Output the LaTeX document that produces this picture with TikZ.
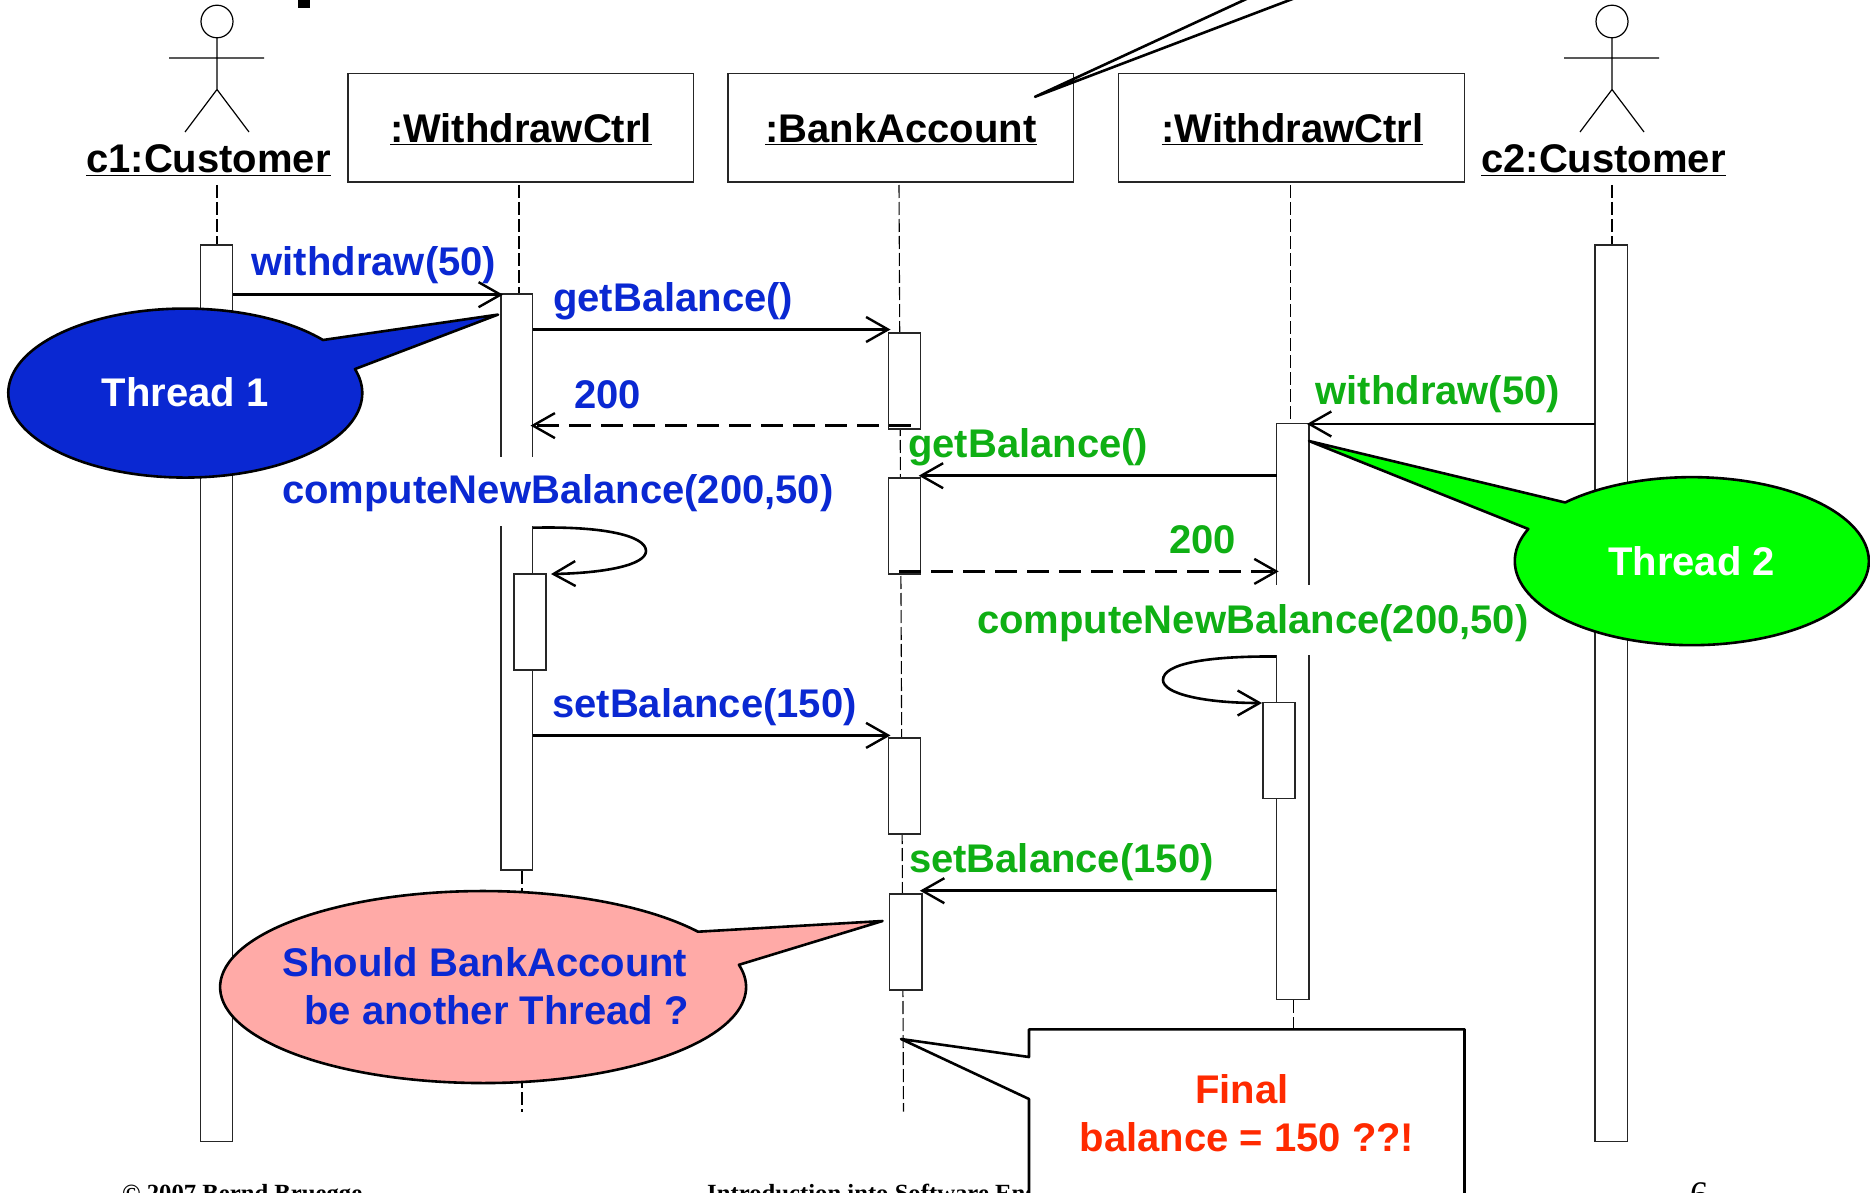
\documentclass[tikz,border=0pt]{standalone}
\usepackage{fontspec}
\setmainfont{Liberation Sans}
\newfontfamily\serifft{Liberation Serif}
\usetikzlibrary{arrows.meta}
\definecolor{tblue}{HTML}{0A28D2}
\definecolor{tgreen}{HTML}{0FAF14}
\definecolor{bgreen}{HTML}{00FF00}
\definecolor{bpink}{HTML}{FFAAA7}
\definecolor{tred}{HTML}{FF2A00}
\newcommand{\bigfont}{\fontsize{40}{48}\selectfont\bfseries}
\tikzset{
  x=1pt,y=1pt,
  thinline/.style={line width=1.2pt,draw=black!85},
  actbar/.style={thinline,fill=white,rectangle,inner sep=0pt,outer sep=0pt},
  objbox/.style={thinline,fill=white,rectangle,inner sep=0pt,outer sep=0pt,minimum height=108.5pt,minimum width=345.7pt},
  lifeline/.style={line width=1.1pt,dash pattern=on 13pt off 4pt},
  msg/.style={line width=2.6pt,shorten >=-2pt,-{Straight Barb[length=22pt,width=25pt,line width=2.4pt]}},
  ret/.style={msg,dash pattern=on 22pt off 10pt},
  limb/.style={line width=1.2pt},
  bubble/.style={line width=2.6pt,draw=black,line join=round},
  lab/.style={anchor=base west,inner sep=0pt,font=\bigfont},
  blab/.style={lab,text=tblue},
  glab/.style={lab,text=tgreen},
  whitelab/.style={fill=white,inner xsep=3pt,inner ysep=0pt,text depth=22pt},
  foot/.style={anchor=base west,inner sep=0pt,text=black},
}
\newcommand{\actor}[2]{%
  \draw[limb] (#1,-21.5) ellipse [x radius=16,y radius=16.3];
  \draw[limb] (#1,-38) -- (#1,-89.5) (#1-48,-58) -- (#1+47,-58)
    (#1-32,-132) -- (#1,-89.5) -- (#1+32,-132);
  \node (#2) at (#1,-110) [inner sep=0pt,minimum size=0pt] {};
}
\begin{document}
\begin{tikzpicture}
\useasboundingbox (0,0) rectangle (1870,-1193);
\clip (0,0) rectangle (1870,-1193);
\fill[white] (0,0) rectangle (1870,-1193);

% title fragment
\fill[black] (298,0) rectangle (310,-8);

% footer
\node[foot,font=\serifft\bfseries\fontsize{24.7}{30}\selectfont] (f1) at (122,-1201.5) {© 2007 Bernd Bruegge};
\node[foot,font=\serifft\bfseries\fontsize{24.7}{30}\selectfont] (f2) at (707,-1201.5) {Introduction into Software Engineering};
\node[foot,font=\serifft\fontsize{36}{40}\selectfont] (f3) at (1690,-1206) {6};

% actors
\actor{217}{actA}
\actor{1612}{actB}
\node[lab] (c1) at (86,-173) {\underline{c1:Customer}};
\node[lab] (c2) at (1481,-173) {\underline{c2:Customer}};

% objects
\node[objbox,anchor=north west] (o1) at (348,-73.5) {};
\node[objbox,anchor=north west] (o2) at (728,-73.5) {};
\node[objbox,anchor=north west] (o3) at (1118.7,-73.5) {};
\node[lab,anchor=base] (o1t) at (521,-142.4) {\underline{:WithdrawCtrl}};
\node[lab,anchor=base] (o2t) at (901,-142.4) {\underline{:BankAccount}};
\node[lab,anchor=base] (o3t) at (1292.5,-142.4) {\underline{:WithdrawCtrl}};

% named free ends of lifelines
\coordinate (l1a) at (217,-185);   \coordinate (l1b) at (217,-245);
\coordinate (l2a) at (519,-185);   \coordinate (l2b) at (519,-294);
\coordinate (l2c) at (522,-871);   \coordinate (l2d) at (522,-1111.6);
\coordinate (l3a) at (899,-185);   \coordinate (l3b) at (903.5,-1111.6);
\coordinate (l4a) at (1290.4,-185);\coordinate (l4b) at (1290.4,-423.6);
\coordinate (l4c) at (1293.4,-1000);\coordinate (l4d) at (1293.4,-1028);
\coordinate (l5a) at (1612,-185);  \coordinate (l5b) at (1612,-245);
\draw[lifeline] (l1a) -- (l1b);
\draw[lifeline] (l2a) -- (l2b);
\draw[lifeline] (l2c) -- (l2d);
\draw[lifeline] (l3a) -- (l3b);
\draw[lifeline] (l4a) -- (l4b);
\draw[lifeline] (l4c) -- (l4d);
\draw[lifeline] (l5a) -- (l5b);

% activation bars
\node[actbar,anchor=north west,minimum width=32.1pt,minimum height=896.5pt] (a1) at (200.4,-245) {};
\node[actbar,anchor=north west,minimum width=32.1pt,minimum height=896.5pt] (a5) at (1595,-245) {};
\node[actbar,anchor=north west,minimum width=31.5pt,minimum height=576pt] (a2) at (501,-294) {};
\node[actbar,anchor=north west,minimum width=32pt,minimum height=96pt] (a2n) at (514,-574) {};
\node[actbar,anchor=north west,minimum width=32.2pt,minimum height=575.5pt] (a4) at (1276.7,-423.6) {};
\node[actbar,anchor=north west,minimum width=32pt,minimum height=96pt] (a4n) at (1263,-702.5) {};
\node[actbar,anchor=north west,minimum width=32.2pt,minimum height=96pt] (b1) at (888.5,-333) {};
\node[actbar,anchor=north west,minimum width=32.2pt,minimum height=96pt] (b2) at (888.5,-478) {};
\node[actbar,anchor=north west,minimum width=32.2pt,minimum height=96pt] (b3) at (888.5,-738) {};
\node[actbar,anchor=north west,minimum width=32.2pt,minimum height=96pt] (b4) at (889.7,-894) {};

% message rows
\coordinate (r1) at (0,-294.7);
\coordinate (r2) at (0,-329.5);
\coordinate (r3) at (0,-425.6);
\coordinate (r4) at (0,-735.4);
\coordinate (g1) at (0,-424);
\coordinate (g2) at (0,-475.7);
\coordinate (g3) at (0,-571.4);
\coordinate (g4) at (0,-890.7);
\coordinate (bmid) at (910.6,-425.6);
\coordinate (bmid2) at (899,-571.4);

% labels (the two long ones blank out what lies behind them)
\node[blab,whitelab,text height=47pt] (tCompB) at (279,-503.5) {computeNewBalance(200,50)};
\node[glab,whitelab,text height=48pt] (tCompG) at (974,-633.4) {computeNewBalance(200,50)};
\node[blab] (tW1) at (251.5,-275) {withdraw(50)};
\node[blab] (tG1) at (553,-311.5) {getBalance()};
\node[blab] (t200B) at (574,-408) {200};
\node[blab] (tS1) at (552,-717.4) {setBalance(150)};
\node[glab] (tW2) at (1315.4,-404) {withdraw(50)};
\node[glab] (tG2) at (908,-457.5) {getBalance()};
\node[glab] (t200G) at (1169,-553) {200};
\node[glab] (tS2) at (908.8,-872.4) {setBalance(150)};

% messages
\draw[msg] (a1.east |- r1) -- (a2.west |- r1);
\draw[msg] (a2.east |- r2) -- (b1.west |- r2);
\draw[ret] (bmid) -- (a2.east |- r3);
\draw[msg] (a2.east |- r4) -- (b3.west |- r4);
\draw[msg] (a5.west |- g1) -- (a4.east |- g1);
\draw[msg] (a4.west |- g2) -- (b2.east |- g2);
\draw[ret] (bmid2) -- (a4.west |- g3);
\draw[msg] (a4.west |- g4) -- (b4.east |- g4);
% self calls
\coordinate (s1a) at (533,-527.7); \coordinate (s1b) at (553,-574);
\draw[msg] (s1a) .. controls (605,-526) and (646,-536) .. (646,-551) .. controls (646,-565) and (605,-573) .. (s1b);
\coordinate (s2a) at (1276,-656.5); \coordinate (s2b) at (1260,-703);
\draw[msg] (s2a) .. controls (1205,-656) and (1163,-664) .. (1163,-680) .. controls (1163,-694) and (1205,-703) .. (s2b);

% bubbles
\draw[bubble,fill=tblue] (323,-340) arc[start angle=38.9,end angle=376.5,x radius=177,y radius=84.5] -- (498,-314.6) -- cycle;
\node[inner sep=0pt,anchor=base,font=\bigfont,text=white] (th1) at (185,-406.5) {Thread 1};
\draw[bubble,fill=bgreen] (1528.3,-529) arc[start angle=157.5,end angle=495.7,x radius=177,y radius=84] -- (1309,-441) -- cycle;
\node[inner sep=0pt,anchor=base,font=\bigfont,text=white] (th2) at (1691.5,-575) {Thread 2};
\draw[bubble,fill=bpink] (698,-931.7) arc[start angle=35.2,end angle=373.4,x radius=263,y radius=96] -- (882.5,-921) -- cycle;
\node[inner sep=0pt,anchor=base east,font=\bigfont,text=tblue] (q1) at (687.5,-976.8) {Should BankAccount};
\node[inner sep=0pt,anchor=base east,font=\bigfont,text=tblue] (q2) at (689,-1024.7) {be another Thread ?};

% note
\draw[bubble,fill=white] (1029,-1210) -- (1029,-1099) -- (901,-1039) -- (1029,-1057) -- (1029,-1029.3) -- (1464.5,-1029.3) -- (1464.5,-1210);
\node[inner sep=0pt,anchor=base,font=\bigfont,text=tred] (n1) at (1242,-1103.8) {Final};
\node[inner sep=0pt,anchor=base,font=\bigfont,text=tred] (n2) at (1247,-1151) {balance = 150 ??!};

% callout tail from above
\draw[bubble,fill=white] (1255,5) -- (1035,-96.8) -- (1303,5);
\end{tikzpicture}
\end{document}
